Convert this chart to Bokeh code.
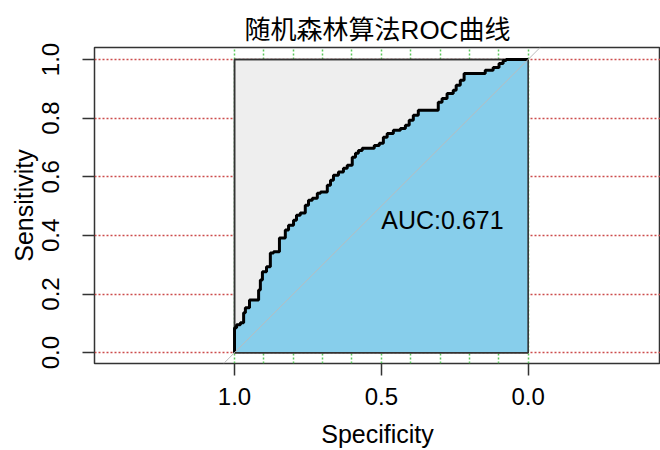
from bokeh.plotting import figure
from bokeh.models import Range1d, FixedTicker, Slope, Label, NumeralTickFormatter
from bokeh.embed import file_html
from bokeh.resources import INLINE

title_text = "随机森林算法ROC曲线"
x_label = "Specificity"
y_label = "Sensitivity"
auc_text = "AUC:0.671"
auc_pos = (0.5, 0.5)

specificity = [1.000, 1.000, 0.993, 0.993, 0.980, 0.980, 0.969, 0.969, 0.963, 0.963,
               0.949, 0.949, 0.918, 0.918, 0.912, 0.912, 0.905, 0.905, 0.891, 0.891,
               0.878, 0.878, 0.867, 0.867, 0.847, 0.847, 0.827, 0.827, 0.816, 0.816,
               0.799, 0.799, 0.789, 0.789, 0.776, 0.776, 0.759, 0.759, 0.748, 0.748,
               0.735, 0.735, 0.718, 0.718, 0.707, 0.707, 0.684, 0.684, 0.673, 0.673,
               0.663, 0.663, 0.646, 0.646, 0.629, 0.629, 0.616, 0.616, 0.599, 0.599,
               0.588, 0.588, 0.578, 0.578, 0.565, 0.565, 0.524, 0.524, 0.507, 0.507,
               0.493, 0.493, 0.480, 0.480, 0.459, 0.459, 0.435, 0.435, 0.418, 0.418,
               0.405, 0.405, 0.391, 0.391, 0.374, 0.374, 0.306, 0.306, 0.293, 0.293,
               0.276, 0.276, 0.255, 0.255, 0.245, 0.245, 0.231, 0.231, 0.218, 0.218,
               0.146, 0.146, 0.119, 0.119, 0.099, 0.099, 0.085, 0.085, 0.075, 0.075,
               0.000]
sensitivity = [0.000, 0.085, 0.085, 0.095, 0.095, 0.102, 0.102, 0.136, 0.136, 0.153,
               0.153, 0.180, 0.180, 0.214, 0.214, 0.248, 0.248, 0.276, 0.276, 0.293,
               0.293, 0.340, 0.340, 0.344, 0.344, 0.391, 0.391, 0.418, 0.418, 0.435,
               0.435, 0.452, 0.452, 0.469, 0.469, 0.476, 0.476, 0.503, 0.503, 0.520,
               0.520, 0.527, 0.527, 0.544, 0.544, 0.548, 0.548, 0.571, 0.571, 0.588,
               0.588, 0.605, 0.605, 0.616, 0.616, 0.629, 0.629, 0.639, 0.639, 0.667,
               0.667, 0.680, 0.680, 0.690, 0.690, 0.697, 0.697, 0.707, 0.707, 0.714,
               0.714, 0.735, 0.735, 0.748, 0.748, 0.759, 0.759, 0.765, 0.765, 0.776,
               0.776, 0.793, 0.793, 0.810, 0.810, 0.827, 0.827, 0.854, 0.854, 0.867,
               0.867, 0.884, 0.884, 0.895, 0.895, 0.912, 0.912, 0.929, 0.929, 0.952,
               0.952, 0.963, 0.963, 0.973, 0.973, 0.986, 0.986, 0.997, 0.997, 1.000,
               1.000]

x_ticks = [1.0, 0.5, 0.0]
y_ticks = [0.0, 0.2, 0.4, 0.6, 0.8, 1.0]
x_grid = [0.0, 0.1, 0.2, 0.3, 0.4, 0.5, 0.6, 0.7, 0.8, 0.9, 1.0]

FONT = "Liberation Sans"
DARK = "#333333"

p = figure(width=660, height=450,
           x_range=Range1d(1.477, -0.451), y_range=Range1d(-0.037, 1.041),
           output_backend="svg", toolbar_location=None,
           min_border_left=94, min_border_right=0,
           min_border_top=47, min_border_bottom=86)

p.background_fill_color = "white"
p.border_fill_color = "white"
p.outline_line_color = DARK
p.outline_line_width = 1.5

# title
p.title.text = title_text
p.title.align = "center"
p.title.text_font = "Liberation Sans, Noto Sans CJK SC"
p.title.text_font_size = "26px"
p.title.text_font_style = "normal"
p.title.text_color = "black"
p.title.standoff = 6

# grids
p.xgrid.ticker = FixedTicker(ticks=x_grid)
p.xgrid.grid_line_color = "#5cc85c"
p.xgrid.grid_line_dash = "2 2"
p.xgrid.grid_line_width = 1.5
p.ygrid.ticker = FixedTicker(ticks=y_ticks)
p.ygrid.grid_line_color = "#cc4c4c"
p.ygrid.grid_line_dash = "2 2"
p.ygrid.grid_line_width = 1.5

# axes
for ax in (p.xaxis[0], p.yaxis[0]):
    ax.axis_line_color = None
    ax.major_tick_out = 12
    ax.major_tick_in = 0
    ax.major_tick_line_color = DARK
    ax.major_tick_line_width = 1.5
    ax.minor_tick_line_color = None
    ax.major_label_text_font = FONT
    ax.major_label_text_font_size = "24px"
    ax.major_label_text_color = "black"
    ax.axis_label_text_font = FONT
    ax.axis_label_text_font_size = "25px"
    ax.axis_label_text_font_style = "normal"
    ax.axis_label_text_color = "black"
    ax.formatter = NumeralTickFormatter(format="0.0")

p.xaxis.ticker = FixedTicker(ticks=x_ticks)
p.yaxis.ticker = FixedTicker(ticks=y_ticks)
p.xaxis.axis_label = x_label
p.yaxis.axis_label = y_label
p.xaxis.major_label_standoff = 12
p.yaxis.major_label_standoff = 23
p.yaxis.major_label_orientation = "vertical"
p.xaxis.axis_label_standoff = 12
p.yaxis.axis_label_standoff = 2

# max AUC region (light gray box)
p.quad(left=[max(specificity)], right=[min(specificity)],
       bottom=[min(sensitivity)], top=[max(sensitivity)],
       fill_color="#eeeeee", line_color=DARK, line_width=1.5)

# AUC polygon
p.patch(specificity + [min(specificity)], sensitivity + [min(sensitivity)],
        fill_color="#87ceeb", line_color=None)

# identity line
p.add_layout(Slope(gradient=-1, y_intercept=1, line_color="#bbbbbb", line_width=1))

# redraw box edges over the polygon
p.quad(left=[max(specificity)], right=[min(specificity)],
       bottom=[min(sensitivity)], top=[max(sensitivity)],
       fill_color=None, line_color=DARK, line_width=1.5)

# ROC curve
p.line(specificity, sensitivity, line_color="black", line_width=3)

p.add_layout(Label(x=auc_pos[0], y=auc_pos[1], text=auc_text,
                   text_align="left", text_baseline="top",
                   text_font=FONT, text_font_size="25px", text_color="black"))

open("out.html", "w").write(file_html(p, INLINE))
